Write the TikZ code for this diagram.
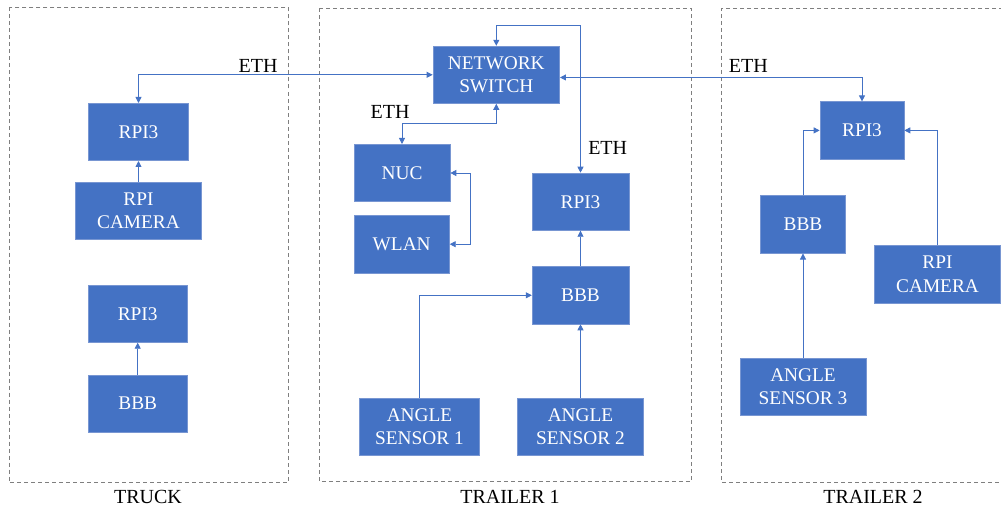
\documentclass[tikz,border=0pt]{standalone}
\usepackage{fontspec}
\setmainfont{Liberation Serif}
\usepackage{tikz}
\usetikzlibrary{arrows.meta}
\definecolor{unitblue}{RGB}{68, 114, 196}
\definecolor{unitrim}{RGB}{120, 150, 210}
\definecolor{frame}{RGB}{127, 127, 127}

\begin{document}
\begin{tikzpicture}[x=0.75pt, y=-0.75pt,
  unit/.style={fill=unitblue, draw=unitrim, line width=0.5pt, text=white,
    minimum height=43pt, align=center, inner sep=1pt,
    font=\fontsize{14.5}{17.5}\selectfont},
  link/.style={color=unitblue, line width=0.6pt,
    arrows={-Triangle[length=4.5pt, width=4.5pt]}},
  duplex/.style={link, arrows={Triangle[length=4.5pt, width=4.5pt]-Triangle[length=4.5pt, width=4.5pt]}},
  group/.style={draw=frame, line width=0.6pt, dash pattern=on 3pt off 2.25pt},
  caption/.style={font=\fontsize{15}{18}\selectfont}]
  \useasboundingbox (0, 0) rectangle (1001, 510);

  % groups
  \draw [group] (9.3, 7.5) rectangle (288.3, 482.5);
  \node[caption] (truck) at (148, 497) {TRUCK};

  \draw [group] (319.3, 8.3) rectangle (691, 481.7);
  \node[caption] (trailerone) at (510, 497) {TRAILER 1};

  \draw [group] (1010, 8.3) -- (721.7, 8.3) -- (721.7, 482.7) -- (1010, 482.7);
  \node[caption] (trailertwo) at (873, 497) {TRAILER 2};

  % truck
  \node[unit, minimum width=75pt] (truckpi) at (138.5, 132) {RPI3};
  \node[unit, minimum width=94.5pt] (truckcam) at (138.5, 211) {RPI\\CAMERA};
  \node[unit, minimum width=74pt] (truckpitwo) at (137.7, 313.7) {RPI3};
  \node[unit, minimum width=74pt] (truckbbb) at (137.7, 403.5) {BBB};

  % trailer 1
  \node[unit, minimum width=95pt] (switch) at (496.3, 74.8) {NETWORK\\SWITCH};
  \node[unit, minimum width=72pt] (nuc) at (402, 173) {NUC};
  \node[unit, minimum width=71.5pt] (wlan) at (401.7, 244.2) {WLAN};
  \node[unit, minimum width=73pt] (onepi) at (580.5, 201.7) {RPI3};
  \node[unit, minimum width=72.5pt] (onebbb) at (580.5, 295.3) {BBB};
  \node[unit, minimum width=90pt] (sensorone) at (419.5, 426.8) {ANGLE\\SENSOR 1};
  \node[unit, minimum width=94.5pt] (sensortwo) at (580.5, 426.8) {ANGLE\\SENSOR 2};

  % trailer 2
  \node[unit, minimum width=63pt] (twopi) at (862, 130.4) {RPI3};
  \node[unit, minimum width=64pt] (twobbb) at (803, 224.5) {BBB};
  \node[unit, minimum width=94.5pt] (twocam) at (937.5, 274.2) {RPI\\CAMERA};
  \node[unit, minimum width=94.5pt] (sensorthree) at (803, 387) {ANGLE\\SENSOR 3};

  % ethernet
  \draw [duplex] (truckpi.north) |- (switch.west);
  \node[caption] (ethtruck) at (258, 66) {ETH};
  \draw [duplex] ([yshift=-2pt]switch.east) -| (twopi.north);
  \node[caption] (ethtwo) at (748.3, 66) {ETH};
  \draw [duplex] (switch.south) -- ++(0, 20) -| (nuc.north);
  \node[caption] (ethnuc) at (390, 111.7) {ETH};
  \draw [duplex] (switch.north) -- ++(0, -20) -| (onepi.north);
  \node[caption] (ethpi) at (607.7, 148) {ETH};
  \draw [duplex] (nuc.east) -- ++(20, 0) |- (wlan.east);

  % sensors
  \draw [link] (truckcam.north) -- (truckpi.south);
  \draw [link] (truckbbb.north) -- (truckpitwo.south);
  \draw [link] (onebbb.north) -- (onepi.south);
  \draw [link] (sensortwo.north) -- (onebbb.south);
  \draw [link] (sensorone.north) |- (onebbb.west);
  \draw [link] (twobbb.north) |- (twopi.west);
  \draw [link] (twocam.north) |- (twopi.east);
  \draw [link] (sensorthree.north) -- (twobbb.south);
\end{tikzpicture}
\end{document}
